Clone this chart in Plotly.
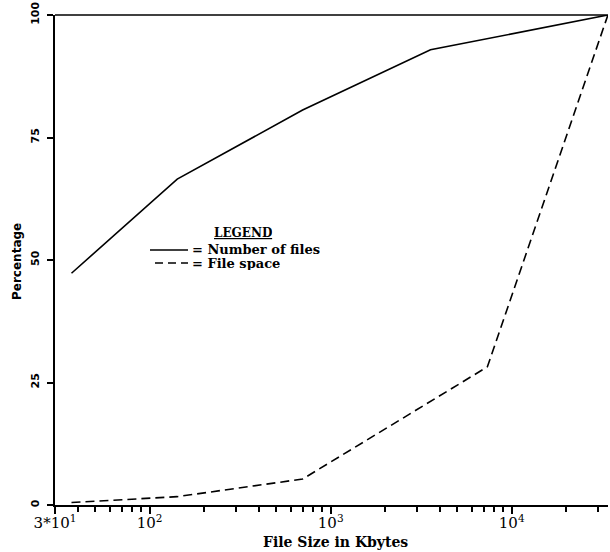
import plotly.graph_objects as go

# ---- data ----
files_x = [37, 142, 700, 3560, 34000]
files_pct = [47.3, 66.5, 80.6, 92.9, 100]
space_x = [37, 142, 700, 7340, 34000]
space_pct = [0.5, 1.7, 5.3, 28.2, 100]

x_tickvals = [30, 100, 1000, 10000]
x_ticktext = ["3*10<sup>1</sup>", "10<sup>2</sup>", "10<sup>3</sup>", "10<sup>4</sup>"]
x_minor = [40, 50, 60, 70, 80, 90, 200, 300, 400, 500, 600, 700, 800, 900,
           2000, 3000, 4000, 5000, 6000, 7000, 8000, 9000, 20000, 30000]
y_tickvals = [0, 25, 50, 75, 100]
y_ticktext = ["0", "25", "50", "75", "100"]

# ---- layout geometry (screen pixels) ----
W, H = 610, 552
L, R, T, B = 55, 608, 15, 505   # plot area


def px(x):
    return (x - L) / (R - L)


def py(y):
    return (B - y) / (B - T)


SERIF = "DejaVu Serif"
SANS = "DejaVu Sans"

fig = go.Figure()
fig.add_trace(go.Scatter(x=files_x, y=files_pct, mode="lines",
                         line=dict(color="black", width=1.6), showlegend=False,
                         cliponaxis=False))
fig.add_trace(go.Scatter(x=space_x, y=space_pct, mode="lines",
                         line=dict(color="black", width=1.6, dash="9px,5px"),
                         showlegend=False, cliponaxis=False))

fig.update_layout(
    width=W, height=H,
    margin=dict(l=L, r=W - R, t=T, b=H - B, pad=0, autoexpand=False),
    paper_bgcolor="white", plot_bgcolor="white",
    xaxis=dict(type="log", range=[1.4771, 4.532], showgrid=False, zeroline=False,
               automargin=False,
               showline=True, linecolor="black", linewidth=2,
               tickmode="array", tickvals=x_tickvals, ticktext=x_ticktext,
               ticks="outside", ticklen=7, tickwidth=1.5, tickcolor="black",
               ticklabelstandoff=-4,
               tickfont=dict(family=SERIF, size=15, color="black"),
               minor=dict(tickvals=x_minor, ticks="outside", ticklen=5,
                          tickwidth=1.5, tickcolor="black")),
    yaxis=dict(range=[0, 100], showgrid=False, zeroline=False,
               automargin=False,
               showline=True, linecolor="black", linewidth=2,
               tickmode="array", tickvals=y_tickvals, ticktext=y_ticktext,
               ticks="outside", ticklen=6, tickwidth=1.5, tickcolor="black",
               tickangle=-90, ticklabelstandoff=4, ticklabeloverflow="allow",
               tickfont=dict(family=SANS, size=11, color="black", weight="bold")),
)

# top border line
fig.add_shape(type="line", xref="paper", yref="paper", x0=0, x1=1, y0=1, y1=1,
              line=dict(color="black", width=1.5))

# axis titles
fig.add_annotation(text="File Size in Kbytes", xref="paper", yref="paper",
                   x=px(335), y=py(542), xanchor="center", yanchor="middle",
                   showarrow=False,
                   font=dict(family=SERIF, size=14, color="black", weight="bold"))
fig.add_annotation(text="Percentage", xref="paper", yref="paper",
                   x=px(17), y=py(262), xanchor="center", yanchor="middle",
                   showarrow=False, textangle=-90,
                   font=dict(family=SANS, size=12, color="black", weight="bold"))

# hand-drawn legend
fig.add_annotation(text="<u>LEGEND</u>", xref="paper", yref="paper",
                   x=px(243), y=py(233), xanchor="center", yanchor="middle",
                   showarrow=False, height=16, borderpad=0,
                   font=dict(family=SERIF, size=12, color="black", weight="bold"))
fig.add_annotation(text="= Number of files", xref="paper", yref="paper",
                   x=px(191), y=py(249), xanchor="left", yanchor="middle",
                   showarrow=False, height=14, borderpad=0,
                   font=dict(family=SERIF, size=13, color="black", weight="bold"))
fig.add_annotation(text="= File space", xref="paper", yref="paper",
                   x=px(191), y=py(263), xanchor="left", yanchor="middle",
                   showarrow=False, height=14, borderpad=0,
                   font=dict(family=SERIF, size=13, color="black", weight="bold"))
fig.add_shape(type="line", xref="paper", yref="paper",
              x0=px(150), x1=px(188), y0=py(250), y1=py(250),
              line=dict(color="black", width=1.5))
fig.add_shape(type="line", xref="paper", yref="paper",
              x0=px(155), x1=px(188), y0=py(263), y1=py(263),
              line=dict(color="black", width=1.5, dash="8px,5px"))

fig.write_html("out.html",
               config={"displayModeBar": False},
               post_script="document.body.style.margin='0';"
                           "document.body.style.overflow='hidden';")
